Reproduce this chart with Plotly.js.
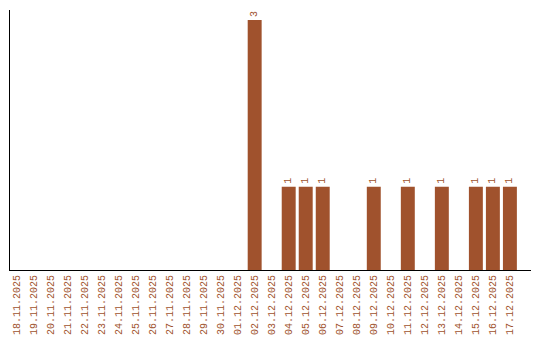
<!DOCTYPE html>
<html>
<head>
<meta charset="utf-8">
<script src="https://cdn.plot.ly/plotly-3.0.1.min.js"></script>
<style>html,body{margin:0;padding:0;background:#fff;}#chart{width:540px;height:340px;}</style>
</head>
<body>
<div id="chart"></div>
<script>
const categories = ["18.11.2025","19.11.2025","20.11.2025","21.11.2025","22.11.2025","23.11.2025","24.11.2025","25.11.2025","26.11.2025","27.11.2025","28.11.2025","29.11.2025","30.11.2025","01.12.2025","02.12.2025","03.12.2025","04.12.2025","05.12.2025","06.12.2025","07.12.2025","08.12.2025","09.12.2025","10.12.2025","11.12.2025","12.12.2025","13.12.2025","14.12.2025","15.12.2025","16.12.2025","17.12.2025"];
const values = [0,0,0,0,0,0,0,0,0,0,0,0,0,0,3,0,1,1,1,0,0,1,0,1,0,1,0,1,1,1];
const labels = values.map(v => v > 0 ? String(v) : "");

const trace = {
  type: "bar",
  x: categories,
  y: values,
  text: labels,
  textposition: "outside",
  textangle: -90,
  cliponaxis: false,
  textfont: {family: "Liberation Mono", size: 10, color: "#a0522d"},
  marker: {color: "#a0522d"},
  hoverinfo: "none"
};

const layout = {
  width: 540, height: 340,
  margin: {l: 10, r: 9, t: 10, b: 70},
  paper_bgcolor: "#fff", plot_bgcolor: "#fff",
  bargap: 0.18,
  showlegend: false,
  xaxis: {
    type: "category",
    range: [-0.38, 30.24],
    showline: true, linecolor: "#000", linewidth: 1,
    showgrid: false, zeroline: false, ticks: "",
    tickangle: -90,
    tickfont: {family: "Liberation Mono", size: 10, color: "#a0522d"}
  },
  yaxis: {
    range: [0, 3.12],
    showline: true, linecolor: "#000", linewidth: 1,
    showgrid: false, zeroline: false, ticks: "", showticklabels: false
  }
};

Plotly.newPlot("chart", [trace], layout, {displayModeBar: false, staticPlot: true});
</script>
</body>
</html>
